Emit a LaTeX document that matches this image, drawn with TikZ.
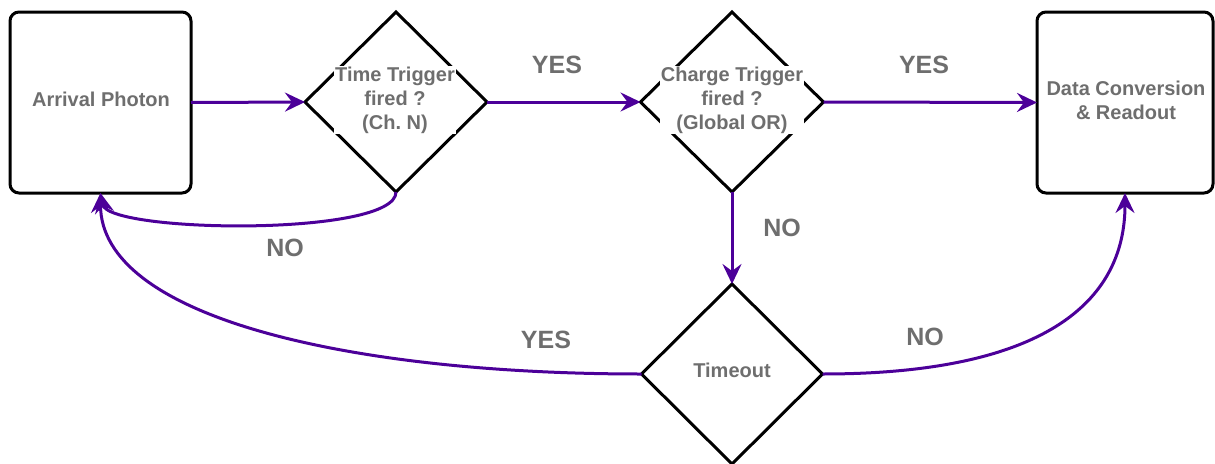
\documentclass[tikz,border=0pt]{standalone}
\usepackage{fontspec}
\setmainfont{Liberation Sans}
\usetikzlibrary{shapes.geometric,arrows.meta}
\definecolor{flowc}{HTML}{4C0099}
\definecolor{txtc}{HTML}{6E6E6E}
\frenchspacing
\tikzset{
  box/.style={draw=black, line width=3pt, rounded corners=9pt, minimum width=181pt, minimum height=181pt, inner sep=0pt, outer sep=0pt, text=txtc, font=\fontsize{20}{24}\selectfont\bfseries, align=center},
  dia/.style={draw=black, line width=3pt, diamond, minimum width=182pt, minimum height=180pt, inner sep=0pt, outer sep=0pt},
  dtxt/.style={fill=white, text=txtc, font=\fontsize{20}{24}\selectfont\bfseries, align=center, inner sep=1pt},
  lbl/.style={text=txtc, font=\fontsize{25}{28}\selectfont\bfseries, inner sep=1pt},
  flow/.style={draw=flowc, line width=3pt, -{Stealth[length=20pt,width=19pt,inset=7pt]}},
}
\begin{document}
\begin{tikzpicture}[x=1pt,y=-1pt]
\useasboundingbox (0,0) rectangle (1215,463);
\node[box] (arr) at (100.5,102.5) {};
\node[text=txtc, font=\fontsize{20}{24}\selectfont\bfseries] (arrt) at (101,99) {Arrival Photon};
\node[box, minimum width=176pt] (rd) at (1125,102.5) {};
\node[text=txtc, font=\fontsize{20}{24}\selectfont\bfseries, align=center] (rdt) at (1126,100) {Data Conversion\\\& Readout};
\node[dia] (d1) at (396,102) {};
\node[dia, minimum width=183pt] (d2) at (732,102) {};
\node[dia, minimum width=181pt] (to) at (732,374) {};
\node[dtxt] (d1t) at (395,100) {Time Trigger\\fired ?\\(Ch.\ N)};
\node[dtxt] (d2t) at (732,100) {Charge Trigger\\fired ?\\(Global OR)};
\node[text=txtc, font=\fontsize{20}{24}\selectfont\bfseries] (tot) at (732,370) {Timeout};
\draw[flow] (arr.east) -- (d1.west);
\draw[flow] (d1.east) -- (d2.west);
\draw[flow] (d2.east) -- (rd.west);
\draw[flow] (d2.south) -- (to.north);
\draw[flow] (d1.south) .. controls +(0,45) and +(8,40) .. (arr.south);
\draw[flow] (to.west) .. controls +(-290,0) and +(0,125) .. (arr.south);
\draw[flow] (to.east) .. controls +(220,0) and +(0,110) .. (rd.south);
\node[lbl] (l1) at (557,65) {YES};
\node[lbl] (l2) at (924,65) {YES};
\node[lbl] (l3) at (782,228) {NO};
\node[lbl] (l4) at (285,248) {NO};
\node[lbl] (l5) at (546,340) {YES};
\node[lbl] (l6) at (925,337) {NO};
\end{tikzpicture}
\end{document}
